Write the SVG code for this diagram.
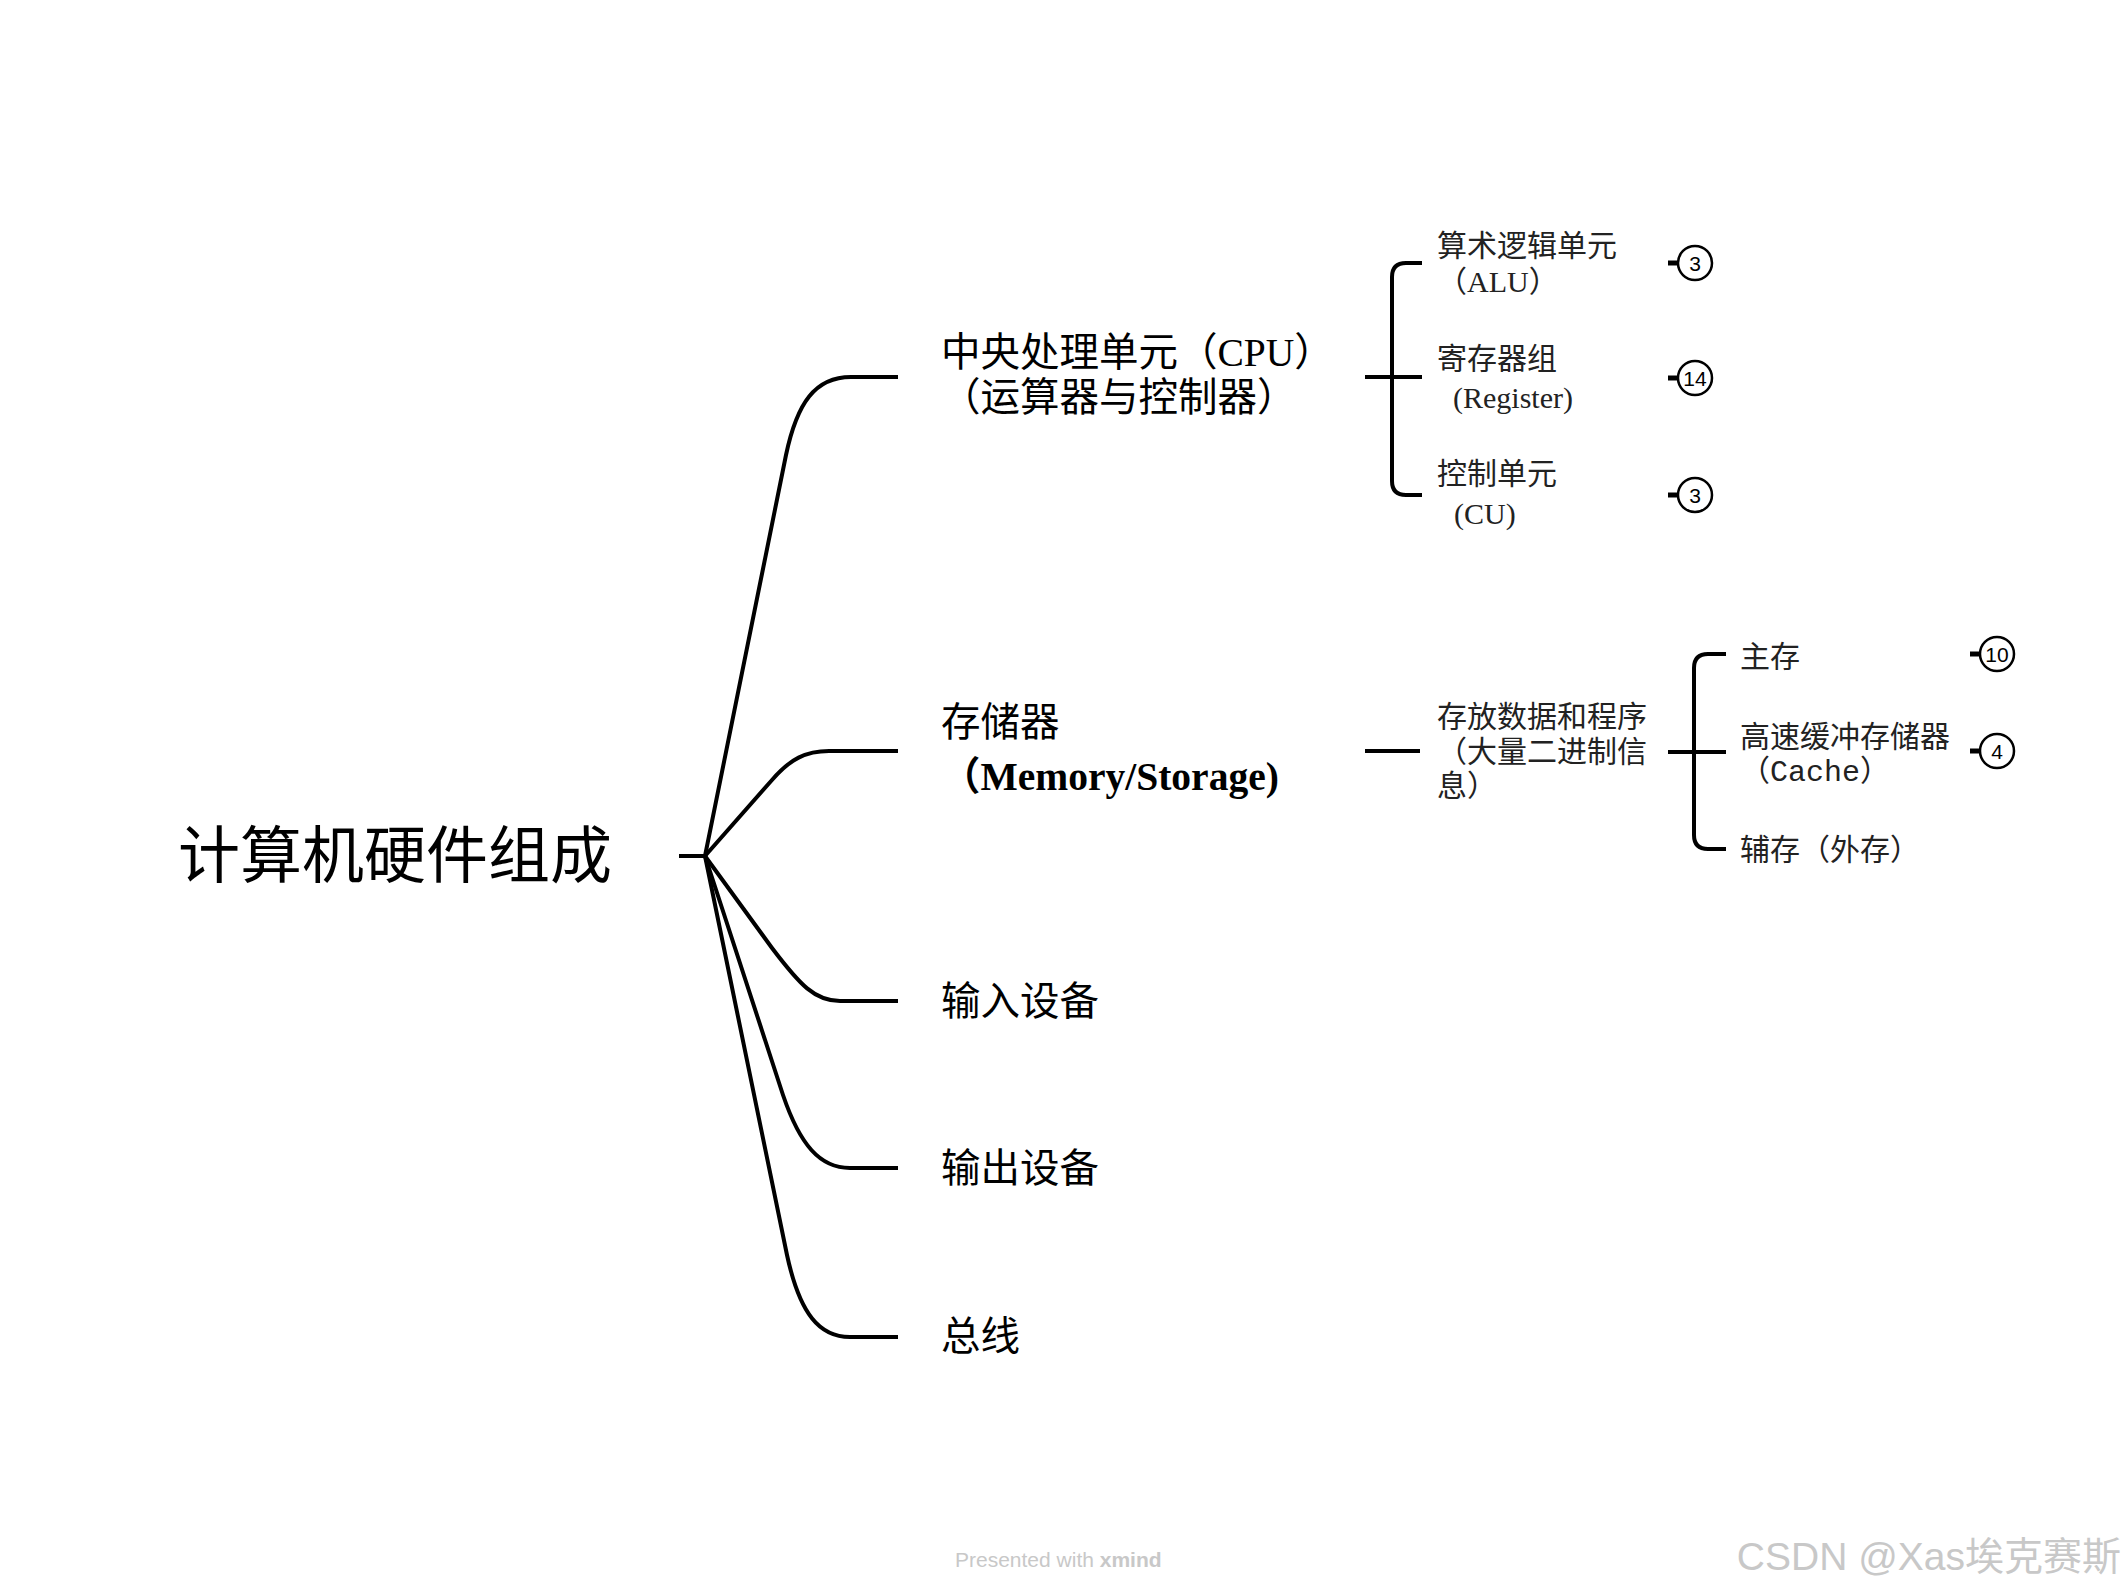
<svg xmlns="http://www.w3.org/2000/svg" width="2125" height="1596" viewBox="0 0 2125 1596">
<style>
.ln{fill:none;stroke:#000;stroke-width:4;stroke-linecap:butt;stroke-linejoin:round}
.t{font-family:"Liberation Serif","Noto Sans CJK SC",serif;fill:#000}
.root{font-size:62px}
.l1{font-size:39.5px}
.l2{font-size:30px;fill:#222}
.b{font-weight:bold}
.mono{font-family:"Liberation Mono","Noto Sans CJK SC",monospace}
.badge circle{fill:#fff;stroke:#000;stroke-width:2.5}
.badge line{stroke:#000;stroke-width:5}
.badge text{font-family:"Liberation Sans",sans-serif;font-size:21px;text-anchor:middle;fill:#000}
.wm{font-family:"Liberation Sans","Noto Sans CJK SC",sans-serif;fill:#c8c8c8}
</style>
<rect width="2125" height="1596" fill="#fff"/>
<g id="connectors">
<path class="ln" d="M679,856 L705,856"/>
<path class="ln" d="M705,856 L786,455 C797,403 815,377 851,377 L898,377"/>
<path class="ln" d="M705,856 L772,780 C790,759 806,751 829,751 L898,751"/>
<path class="ln" d="M705,856 L772,948 C800,985 815,1001 840,1001 L898,1001"/>
<path class="ln" d="M705,856 L783,1095 C800,1145 820,1168 850,1168 L898,1168"/>
<path class="ln" d="M705,856 L787,1255 C800,1315 820,1337 850,1337 L898,1337"/>
<path class="ln" d="M1365,377 L1422,377"/>
<path class="ln" d="M1422,263 L1406,263 Q1392,263 1392,277 L1392,481 Q1392,495 1406,495 L1422,495"/>
<path class="ln" d="M1365,751 L1420,751"/>
<path class="ln" d="M1668,752 L1726,752"/>
<path class="ln" d="M1726,654 L1708,654 Q1694,654 1694,668 L1694,835 Q1694,849 1708,849 L1726,849"/>
</g>
<g id="root"><text class="t root" x="178" y="878">计算机硬件组成</text></g>
<g id="cpu"><text class="t l1" x="941" y="366">中央处理单元（CPU）</text><text class="t l1" x="941" y="411">（运算器与控制器）</text></g>
<g id="memory"><text class="t l1" x="941" y="736">存储器</text><text class="t l1 b" x="941" y="790">（Memory/Storage)</text></g>
<g id="input"><text class="t l1" x="941" y="1015">输入设备</text></g>
<g id="output"><text class="t l1" x="941" y="1182">输出设备</text></g>
<g id="bus"><text class="t l1" x="941" y="1350">总线</text></g>
<g id="alu"><text class="t l2" x="1437" y="256">算术逻辑单元</text><text class="t l2" x="1437" y="292">（ALU）</text></g>
<g id="register"><text class="t l2" x="1437" y="369">寄存器组</text><text class="t l2" x="1453" y="408">(Register)</text></g>
<g id="cu"><text class="t l2" x="1437" y="484">控制单元</text><text class="t l2" x="1454" y="524">(CU)</text></g>
<g id="store-desc"><text class="t l2" x="1437" y="727">存放数据和程序</text><text class="t l2" x="1437" y="762">（大量二进制信</text><text class="t l2" x="1437" y="796">息）</text></g>
<g id="main-mem"><text class="t l2" x="1740" y="667">主存</text></g>
<g id="cache"><text class="t l2" x="1740" y="747">高速缓冲存储器</text><text class="t l2" x="1740" y="781">（<tspan class="mono">Cache</tspan>）</text></g>
<g id="aux-mem"><text class="t l2" x="1740" y="860">辅存（外存）</text></g>
<g id="badge-alu" class="badge"><line x1="1668" y1="263" x2="1679" y2="263"/><circle cx="1695" cy="263" r="17"/><text x="1695" y="270.5">3</text></g>
<g id="badge-register" class="badge"><line x1="1668" y1="378" x2="1679" y2="378"/><circle cx="1695" cy="378" r="17"/><text x="1695" y="385.5">14</text></g>
<g id="badge-cu" class="badge"><line x1="1668" y1="495" x2="1679" y2="495"/><circle cx="1695" cy="495" r="17"/><text x="1695" y="502.5">3</text></g>
<g id="badge-main" class="badge"><line x1="1970" y1="654" x2="1981" y2="654"/><circle cx="1997" cy="654" r="17"/><text x="1997" y="661.5">10</text></g>
<g id="badge-cache" class="badge"><line x1="1970" y1="751" x2="1981" y2="751"/><circle cx="1997" cy="751" r="17"/><text x="1997" y="758.5">4</text></g>
<g id="watermarks">
<text class="wm" x="955" y="1567" font-size="21">Presented with <tspan font-weight="bold">xmind</tspan></text>
<text class="wm" x="2121" y="1570" font-size="39" text-anchor="end">CSDN @Xas埃克赛斯</text>
</g>
</svg>
